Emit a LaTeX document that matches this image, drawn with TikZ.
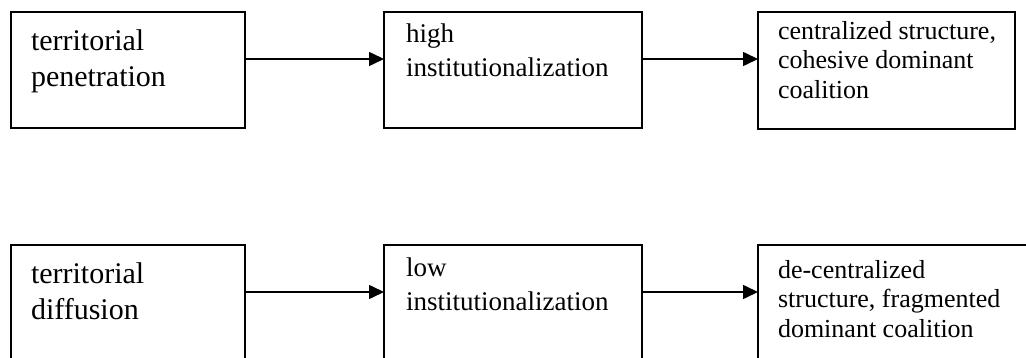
\documentclass[tikz,border=0pt]{standalone}
\usepackage{fontspec}
\setmainfont{Liberation Serif}
\usetikzlibrary{arrows.meta}

\begin{document}
\begin{tikzpicture}[x=1pt,y=-1pt,
  box/.style={draw=black,line width=1.6pt,inner sep=0pt,outer sep=0pt,anchor=north west},
  lbl/.style={inner sep=0pt,outer sep=0pt,anchor=north west,align=left},
  arr/.style={line width=1.6pt,-{Triangle[length=15pt,width=14pt]}},
  big/.style={font=\fontsize{30}{36}\selectfont},
  mid/.style={font=\fontsize{27}{34}\selectfont},
  small/.style={font=\fontsize{26}{29.5}\selectfont}]
\useasboundingbox (0,0) rectangle (1026,358);
\clip (0,0) rectangle (1026,358);

% upper chain
\node[box,minimum width=234pt,minimum height=116pt] (b1) at (11,12) {};
\node[box,minimum width=258pt,minimum height=116pt] (b2) at (384,12) {};
\node[box,minimum width=257pt,minimum height=117pt] (b3) at (758,12) {};
\node[lbl,big]   (t1) at (31,29.5)  {territorial\\penetration};
\node[lbl,mid]   (t2) at (406,24)   {high\\institutionalization};
\node[lbl,small] (t3) at (778,21)   {centralized structure,\\cohesive dominant\\coalition};
\draw[arr] ([yshift=11pt]b1.east) -- ([yshift=11pt]b2.west);
\draw[arr] ([yshift=11pt]b2.east) -- ([yshift=11.5pt]b3.west);

% lower chain
\node[box,minimum width=234pt,minimum height=116pt] (b4) at (11,245) {};
\node[box,minimum width=258pt,minimum height=116pt] (b5) at (384,245) {};
\node[box,minimum width=280pt,minimum height=116pt] (b6) at (758,245) {};
\node[lbl,big]   (t4) at (31,263) {territorial\\diffusion};
\node[lbl,mid]   (t5) at (406,258)  {low\\institutionalization};
\node[lbl,small] (t6) at (778,260)  {de-centralized\\structure, fragmented\\dominant coalition};
\draw[arr] ([yshift=11pt]b4.east) -- ([yshift=11pt]b5.west);
\draw[arr] ([yshift=11pt]b5.east) -- ([yshift=11pt]b6.west);
\end{tikzpicture}
\end{document}
